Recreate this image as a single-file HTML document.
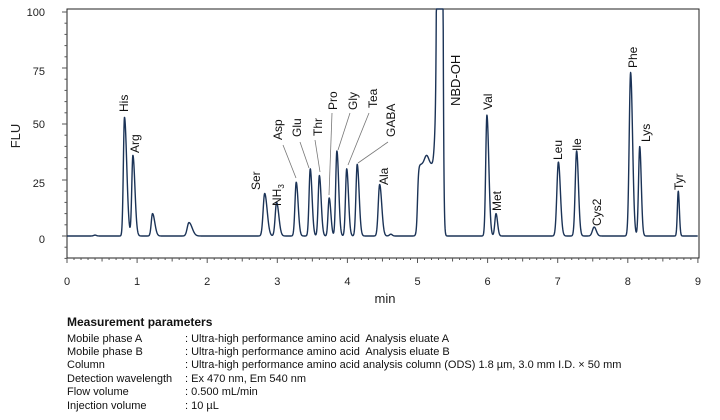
<!DOCTYPE html>
<html><head><meta charset="utf-8"><style>
body{margin:0;background:#fff;width:720px;height:420px;overflow:hidden;font-family:"Liberation Sans",Arial,sans-serif}
svg{position:absolute;left:0;top:0}
.p{position:absolute;left:67px;font-size:11px;color:#111;line-height:13px}
.p span{position:absolute;left:118px;white-space:nowrap}
</style></head><body>
<svg id="s" width="720" height="420" font-family="Liberation Sans, Arial, sans-serif">
<rect x="67" y="9" width="632" height="249" fill="none" stroke="#222" stroke-width="1"/>
<g id="ticks" stroke="#555" stroke-width="1"></g>
<g font-size="11" fill="#222" text-anchor="end">
<text x="45" y="16">100</text><text x="45" y="75">75</text><text x="45" y="128">50</text><text x="45" y="187">25</text><text x="45" y="243">0</text>
</g>
<g font-size="11" fill="#222" text-anchor="middle" id="xl"></g>
<text x="20" y="136" font-size="13" fill="#222" text-anchor="middle" transform="rotate(-90 20 136)">FLU</text>
<text x="385" y="303" font-size="13" fill="#222" text-anchor="middle">min</text>
<path id="tr" fill="none" stroke="#1b3357" stroke-width="1.4" stroke-linejoin="round"/>
<g stroke="#777" stroke-width="0.8">
<line x1="283" y1="145" x2="296" y2="178"/>
<line x1="300" y1="142" x2="309" y2="168"/>
<line x1="315" y1="140" x2="320" y2="172"/>
<line x1="332" y1="113" x2="329" y2="195"/>
<line x1="350" y1="113" x2="338" y2="150"/>
<line x1="369" y1="113" x2="348" y2="165"/>
<line x1="388" y1="142" x2="358" y2="163"/>
</g>
<g font-size="12" fill="#111" id="lb"></g>
</svg>
<div class="p" style="top:316px;font-weight:bold;font-size:12px">Measurement parameters</div>
<div class="p" style="top:333px">Mobile phase A<span>: Ultra-high performance amino acid&nbsp; Analysis eluate A</span></div>
<div class="p" style="top:346px">Mobile phase B<span>: Ultra-high performance amino acid&nbsp; Analysis eluate B</span></div>
<div class="p" style="top:359px">Column<span>: Ultra-high performance amino acid analysis column (ODS) 1.8 µm, 3.0 mm I.D. × 50 mm</span></div>
<div class="p" style="top:373px">Detection wavelength<span>: Ex 470 nm, Em 540 nm</span></div>
<div class="p" style="top:386px">Flow volume<span>: 0.500 mL/min</span></div>
<div class="p" style="top:400px">Injection volume<span>: 10 µL</span></div>
<script>
function X(t){return 67+70.1*t}
function Y(v){return 236-2.24*v}
function sg(z){return 1/(1+Math.exp(-z))}
var tk=document.getElementById("ticks"),h="";
for(var i=0;i<=90;i++){var x=X(i/10);var L=i%10==0?5:(i%5==0?3.5:2);h+='<line x1="'+x+'" y1="258" x2="'+x+'" y2="'+(258+L)+'"/>';}
for(var v=-10;v<=100;v+=5){var y=Y(v);var L=v%25==0?5:2.5;h+='<line x1="67" y1="'+y+'" x2="'+(67-L)+'" y2="'+y+'"/>';}
tk.innerHTML=h;
var xl="";for(var i=0;i<=9;i++)xl+='<text x="'+X(i)+'" y="285">'+i+'</text>';
document.getElementById("xl").innerHTML=xl;
var P=[[0.82,53,.016,2],[0.94,36,.016,1.8],[1.22,10,.018,1.8],[1.74,6,.025,1.8],[2.82,19,.022,1.6],[2.99,15,.02,1.6],
[3.27,24,.018,1.5],[3.47,30,.017,1.5],[3.60,27,.017,1.5],[3.74,17,.016,1.5],[3.85,38,.017,1.5],[3.99,30,.017,1.5],[4.14,32,.018,1.5],
[4.46,23,.02,1.5],[5.13,4,.03,1],[5.26,14,.02,1],[5.32,900,.022,1],[5.99,54,.017,1.6],[6.12,10,.017,1.3],
[7.01,33,.022,1.3],[7.27,38,.02,1.3],[7.52,4,.025,1.2],[8.04,73,.02,1.4],[8.17,40,.017,1.3],[8.72,20,.013,1.2],[4.62,0.8,.02,1],[0.4,.4,.02,1]];
var d="";for(var t=0;t<=9;t+=0.003){var v=0;for(var k=0;k<P.length;k++){var p=P[k],dt=t-p[0],s=dt>0?p[2]*p[3]:p[2];v+=p[1]*Math.exp(-dt*dt/(2*s*s));}
v+=32*sg((t-5.0)/0.008)*sg((5.31-t)/0.006);
var y=Math.max(Y(v),9);d+=(d?"L":"M")+X(t).toFixed(2)+" "+y.toFixed(2);}
document.getElementById("tr").setAttribute("d",d);
var L=[["His",124,112],["Arg",135,153],["Ser",256,190],["Asp",278,140],["Glu",297,137],["Thr",318,136],["Pro",333,110],["Gly",353,110],["Tea",373,108],["GABA",391,137],["Ala",384,185],["NBD-OH",456,106],["Val",488,110],["Met",497,211],["Leu",558,160],["Ile",577,151],["Cys2",597,226],["Phe",633,68],["Lys",646,142],["Tyr",679,190]];
var s="";L.forEach(function(l){s+='<text transform="translate('+(l[1]+4)+','+l[2]+') rotate(-90)"'+(l[0]=="NBD-OH"?' font-size="13"':'')+'>'+l[0]+'</text>';});
s+='<text transform="translate(281,206) rotate(-90)">NH<tspan font-size="8" dy="3">3</tspan></text>';
document.getElementById("lb").innerHTML=s;
</script>
</body></html>
